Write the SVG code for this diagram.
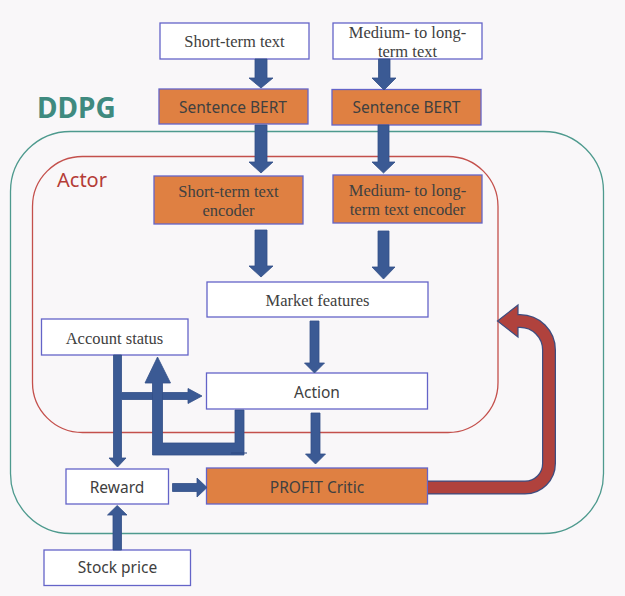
<svg xmlns="http://www.w3.org/2000/svg" width="625" height="596" viewBox="0 0 625 596">
  <defs>
    <style>
      .box { fill: #ffffff; stroke: #6464c8; stroke-width: 1.3; }
      .obox { fill: #df8042; stroke: #6464c8; stroke-width: 1.3; }
      .serif { font-family: "Liberation Serif", "Times New Roman", serif; font-size: 16.5px; fill: #404040; text-anchor: middle; }
      .sans { font-family: "Noto Sans", "Open Sans", sans-serif; font-size: 15.5px; fill: #404040; text-anchor: middle; }
      .flow { fill: #3b5a94; stroke: #324f88; stroke-width: 0.8; stroke-linejoin: miter; }
      .loop-edge { fill: none; stroke: #3d4d80; stroke-width: 14; }
      .loop-core { fill: none; stroke: #b0423d; stroke-width: 11.5; }
    </style>
  </defs>

  <rect x="0" y="0" width="625" height="596" fill="#f9f7f9"/>

  <!-- frames -->
  <g id="ddpg-frame">
    <rect x="10.5" y="131.5" width="593" height="402" rx="60" ry="60" fill="none" stroke="#4e9a8e" stroke-width="1.3"/>
    <text x="37" y="118" font-family="'Noto Sans', 'Open Sans', sans-serif" font-size="28" font-weight="bold" fill="#3f8a7f">DDPG</text>
  </g>
  <g id="actor-frame">
    <rect x="32.5" y="156.5" width="465.5" height="276" rx="50" ry="50" fill="none" stroke="#c4504c" stroke-width="1.3"/>
    <text x="57" y="187" font-family="'Noto Sans', 'Open Sans', sans-serif" font-size="20" fill="#b53c37">Actor</text>
  </g>

  <!-- nodes -->
  <g id="short-text">
    <rect class="box" x="160" y="23" width="149" height="36"/>
    <text class="serif" x="234.5" y="47">Short-term text</text>
  </g>
  <g id="long-text">
    <rect class="box" x="333" y="23" width="149" height="36"/>
    <text class="serif" x="407.5" y="37.5">Medium- to long-</text>
    <text class="serif" x="407.5" y="57">term text</text>
  </g>
  <g id="bert-short">
    <rect class="obox" x="159" y="89" width="149" height="35"/>
    <text class="sans" x="233" y="112.5" font-size="15">Sentence BERT</text>
  </g>
  <g id="bert-long">
    <rect class="obox" x="332" y="89.5" width="149" height="35.5"/>
    <text class="sans" x="406.5" y="113" font-size="15">Sentence BERT</text>
  </g>
  <g id="encoder-short">
    <rect class="obox" x="154" y="176" width="149" height="48"/>
    <text class="serif" x="228.5" y="196.5">Short-term text</text>
    <text class="serif" x="228.5" y="215.5">encoder</text>
  </g>
  <g id="encoder-long">
    <rect class="obox" x="333" y="175" width="149" height="48"/>
    <text class="serif" x="407.5" y="196">Medium- to long-</text>
    <text class="serif" x="407.5" y="215">term text encoder</text>
  </g>
  <g id="market-features">
    <rect class="box" x="207" y="282" width="221" height="35"/>
    <text class="serif" x="317.5" y="305.5">Market features</text>
  </g>
  <g id="account-status">
    <rect class="box" x="41.5" y="319" width="146.5" height="36"/>
    <text class="serif" x="114.5" y="343.5">Account status</text>
  </g>
  <g id="action">
    <rect class="box" x="206.5" y="373" width="221" height="36"/>
    <text class="sans" x="317" y="398">Action</text>
  </g>
  <g id="reward">
    <rect class="box" x="66" y="469" width="102.5" height="35"/>
    <text class="sans" x="117" y="492.5">Reward</text>
  </g>
  <g id="profit-critic">
    <rect class="obox" x="206.5" y="468" width="221" height="36"/>
    <text class="sans" x="317" y="492.5">PROFIT Critic</text>
  </g>
  <g id="stock-price">
    <rect class="box" x="44" y="550" width="146.5" height="35.5"/>
    <text class="sans" x="117.5" y="573">Stock price</text>
  </g>

  <!-- connectors -->
  <g id="connectors">
    <!-- text inputs into Sentence BERT -->
    <path class="flow" d="M255 59 H267 V78 H273 L261 88 L249 78 H255 Z"/>
    <path class="flow" d="M378.5 59 H390 V78 H396 L384 90 L372 78 H378.5 Z"/>
    <!-- Sentence BERT into encoders -->
    <path class="flow" d="M255 125 H267 V162 H273 L261 173 L249 162 H255 Z"/>
    <path class="flow" d="M378 125 H389 V162 H395 L383.5 173 L372 162 H378 Z"/>
    <!-- encoders into market features -->
    <path class="flow" d="M255 230 H267 V266 H273 L261 277 L249 266 H255 Z"/>
    <path class="flow" d="M378 231 H389 V267 H395 L383.5 279 L372 267 H378 Z"/>
    <!-- market features to action -->
    <path class="flow" d="M310 321 H319 V363 H324.5 L314.5 373 L304.5 363 H310 Z"/>
    <!-- action to critic -->
    <path class="flow" d="M311 413 H320 V454 H325.5 L315.5 464 L305.5 454 H311 Z"/>
    <!-- account status down to reward, with branch to action -->
    <path class="flow" d="M113.5 355 H121.5 V392.5 H188 V388.5 L202 396 L188 403.5 V399.5 H121.5 V458 H126 L117.5 467 L109 458 H113.5 Z"/>
    <!-- action feedback up to account status -->
    <path class="flow" d="M235 410 H244 V455 H152.5 V383 H145 L157.5 357 L170.5 383 H162.5 V443 H235 Z"/>
    <path d="M231 453 H247" stroke="#2c4780" stroke-width="1" fill="none"/>
    <!-- stock price up to reward -->
    <path class="flow" d="M113 550 H121.5 V515 H127 L117.2 505.5 L107.5 515 H113 Z"/>
    <!-- reward to critic -->
    <path class="flow" d="M172.5 483.5 H197 V478 L207 487.5 L197 497 V491.5 H172.5 Z"/>
    <!-- critic feedback loop to actor -->
    <g id="critic-loop">
      <path class="loop-edge" d="M428 487.5 H525 A24 24 0 0 0 549 463.5 V350 A29 29 0 0 0 520 321 H516"/>
      <polygon points="518,305 497.5,321 518,337" fill="#b0423d" stroke="#3d4d80" stroke-width="1.2" stroke-linejoin="miter"/>
      <path class="loop-core" d="M428 487.5 H525 A24 24 0 0 0 549 463.5 V350 A29 29 0 0 0 520 321 H516"/>
    </g>
  </g>
</svg>
